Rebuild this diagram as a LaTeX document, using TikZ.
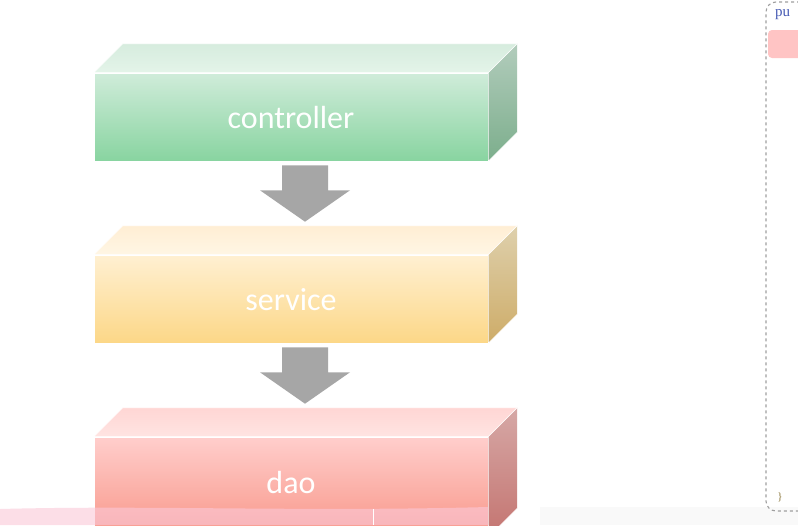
\documentclass[tikz,border=0pt]{standalone}
\usepackage{fontspec}
\setmainfont{Carlito}
\usetikzlibrary{calc}
\definecolor{gArrow}{HTML}{A6A6A6}
\begin{document}
\begin{tikzpicture}[x=1pt,y=-1pt,
  front/.style={minimum width=394pt,minimum height=88pt,inner sep=0pt,draw=white,line width=0.6pt},
  lbl/.style={text=white,font=\fontsize{32}{34}\selectfont},
  face/.style={draw=white,line width=0.6pt},
  darrow/.style={fill=gArrow,draw=none}]
\useasboundingbox (0,0) rectangle (798,525);
\clip (0,0) rectangle (798,525);
\fill[white] (0,0) rectangle (798,525);
\fill[gray!5] (540,507) rectangle (798,525);

% controller
\node[front,top color={rgb,255:red,208;green,236;blue,218},bottom color={rgb,255:red,136;green,212;blue,160}] (c) at (291,117) {};
\path[face,top color={rgb,255:red,214;green,236;blue,222},bottom color={rgb,255:red,228;green,244;blue,233}] (c.north west) -- ++(29,-29) -- ($(c.north east)+(29,-29)$) -- (c.north east) -- cycle;
\path[face,top color={rgb,255:red,178;green,204;blue,188},bottom color={rgb,255:red,124;green,174;blue,140}] (c.north east) -- ++(29,-29) -- ($(c.south east)+(29,-29)$) -- (c.south east) -- cycle;
\node[lbl] (ct) at ($(c.center)+(0,1)$) {controller};

% service
\node[front,top color={rgb,255:red,255;green,240;blue,210},bottom color={rgb,255:red,252;green,215;blue,135}] (s) at (291,299) {};
\path[face,top color={rgb,255:red,255;green,238;blue,212},bottom color={rgb,255:red,255;green,246;blue,228}] (s.north west) -- ++(29,-29) -- ($(s.north east)+(29,-29)$) -- (s.north east) -- cycle;
\path[face,top color={rgb,255:red,222;green,208;blue,172},bottom color={rgb,255:red,206;green,172;blue,104}] (s.north east) -- ++(29,-29) -- ($(s.south east)+(29,-29)$) -- (s.south east) -- cycle;
\node[lbl] (st) at ($(s.center)+(0,1)$) {service};

% dao
\node[front,minimum height=100pt,top color={rgb,255:red,255;green,206;blue,204},bottom color={rgb,255:red,248;green,150;blue,136}] (d) at (291,487) {};
\path[face,top color={rgb,255:red,255;green,214;blue,212},bottom color={rgb,255:red,255;green,228;blue,226}] (d.north west) -- ++(29,-29) -- ($(d.north east)+(29,-29)$) -- (d.north east) -- cycle;
\path[face,top color={rgb,255:red,214;green,168;blue,166},bottom color={rgb,255:red,196;green,116;blue,112}] (d.north east) -- ++(29,-29) -- ($(d.south east)+(29,-29)$) -- (d.south east) -- cycle;
\node[lbl] (dt) at ($(d.north)+(0,46)$) {dao};

% arrows
\foreach \a/\b in {c/s,s/d}{
  \fill[darrow] ($(\a.south)+(-9,4)$) -- ($(\a.south)+(37,4)$) -- ($(\a.south)+(37,29)$)
    -- ($(\a.south)+(59,29)$) -- ($(\b.north)+(14,-33)$) -- ($(\a.south)+(-31,29)$)
    -- ($(\a.south)+(-9,29)$) -- cycle;
}

% pink band at bottom
\fill[fill={rgb,255:red,250;green,200;blue,216},opacity=0.6] (0,509) .. controls (150,505) and (300,512) .. (488,507) -- (488,525) -- (0,525) -- cycle;
\draw[white,line width=0.6pt] (373,509) -- (373,525);

% right code panel
\draw[gray!75,dashed,line width=1.1pt,rounded corners=10pt] (830,2) -- (766,2) -- (766,511) -- (830,511);
\fill[fill={rgb,255:red,255;green,196;blue,196},rounded corners=4pt] (768,30) rectangle (820,58);
\node[anchor=west,inner sep=0pt,text={rgb,255:red,70;green,90;blue,180},font=\fontspec{Liberation Serif}\fontsize{15}{16}\selectfont] (pub) at (775,15) {pu};
\node[inner sep=0pt,text={rgb,255:red,140;green,120;blue,60},font=\fontspec{Liberation Serif}\fontsize{11}{12}\selectfont] (br) at (780,497) {\}};
\end{tikzpicture}
\end{document}
